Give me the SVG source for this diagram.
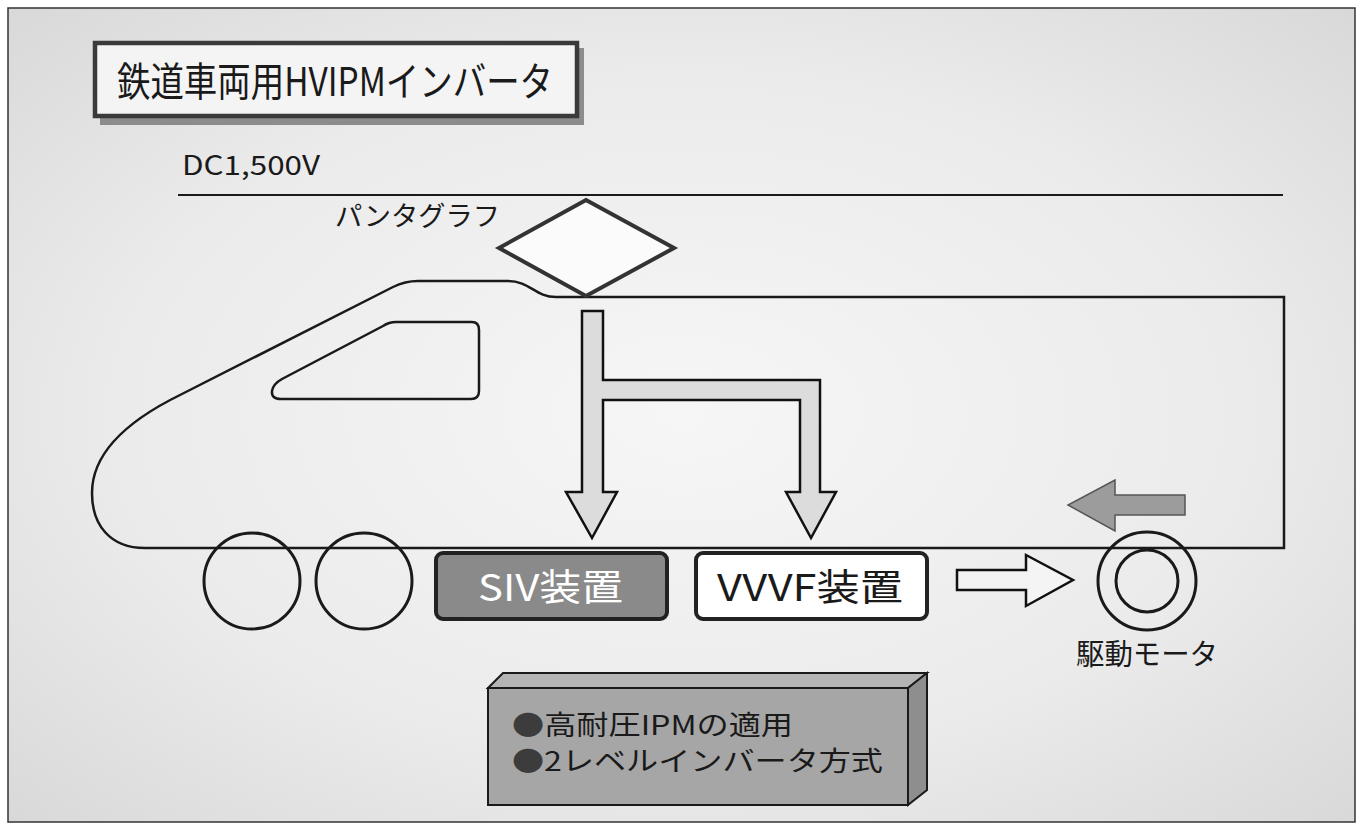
<svg xmlns="http://www.w3.org/2000/svg" width="1366" height="830" viewBox="0 0 1366 830">
  <defs>
    <radialGradient id="paper" cx="0.5" cy="0.5" r="0.7">
      <stop offset="0" stop-color="#f6f6f6"/>
      <stop offset="0.6" stop-color="#ebebeb"/>
      <stop offset="1" stop-color="#d9d9d9"/>
    </radialGradient>
    <style>
      .jp { font-family: "Noto Sans CJK JP", "Noto Sans", sans-serif; fill: #1a1a1a; }
      .ln { fill: none; stroke: #1a1a1a; stroke-width: 2.5; }
      .arrow { stroke: #111; stroke-width: 2.5; stroke-linejoin: miter; }
      .box { stroke: #222; stroke-width: 4; }
      .dot { fill: #3c3c3c; }
    </style>
  </defs>

  <!-- page -->
  <rect x="0" y="0" width="1366" height="830" fill="#ffffff"/>
  <rect x="8" y="8" width="1347" height="814" fill="url(#paper)" stroke="#333" stroke-width="1.5"/>

  <!-- title plate -->
  <g id="title">
    <rect x="100" y="48" width="484" height="77" fill="#8c8c8c"/>
    <rect x="95" y="43" width="482" height="73" fill="#f4f4f4" stroke="#3a3a3a" stroke-width="4.5"/>
    <text class="jp" x="117" y="96" font-size="40" textLength="436" lengthAdjust="spacingAndGlyphs">鉄道車両用HVIPMインバータ</text>
  </g>

  <!-- overhead line -->
  <g id="overhead-line">
    <line x1="178" y1="195" x2="1283" y2="195" stroke="#1a1a1a" stroke-width="2"/>
    <text class="jp" x="182" y="175" font-size="27" textLength="138" lengthAdjust="spacingAndGlyphs">DC1,500V</text>
  </g>

  <!-- train body -->
  <g id="train-body">
    <path class="ln" fill="#f9f9f9" d="M 1284,548 L 145,548 C 110,548 92,525 92,493 C 92,455 125,422 180,395 L 393,287 Q 405,281 418,281 L 508,281 C 530,281 535,297 556,297 L 1284,297 Z"/>
    <path class="ln" fill="#fbfbfb" d="M 396,322 L 472,322 Q 479,322 479,330 L 479,391 Q 479,399 471,399 L 281,399 Q 271,399 272,391 Q 273,384 282,379 L 383,326 Q 389,322 396,322 Z"/>
  </g>

  <!-- pantograph -->
  <g id="pantograph">
    <polygon points="586,200 674,248 586,296 499,248" fill="#fbfbfb" stroke="#333" stroke-width="4"/>
    <text class="jp" x="335" y="226" font-size="27" textLength="165" lengthAdjust="spacingAndGlyphs">パンタグラフ</text>
  </g>

  <!-- wheels -->
  <g id="wheel-1"><circle cx="252" cy="581" r="48" fill="none" stroke="#1a1a1a" stroke-width="3"/></g>
  <g id="wheel-2"><circle cx="364" cy="581" r="48" fill="none" stroke="#1a1a1a" stroke-width="3"/></g>

  <!-- SIV unit -->
  <g id="siv">
    <rect class="box" x="436" y="553" width="231" height="66" rx="7" fill="#8a8a8a"/>
    <text class="jp" x="478" y="601" font-size="37" style="fill:#ffffff" textLength="145" lengthAdjust="spacingAndGlyphs">SIV装置</text>
  </g>

  <!-- VVVF unit -->
  <g id="vvvf">
    <rect class="box" x="696" y="553" width="231" height="66" rx="7" fill="#ffffff"/>
    <text class="jp" x="717" y="601" font-size="37" textLength="186" lengthAdjust="spacingAndGlyphs">VVVF装置</text>
  </g>

  <!-- traction motor -->
  <g id="motor">
    <circle cx="1147" cy="581" r="49" fill="none" stroke="#1a1a1a" stroke-width="3"/>
    <circle cx="1147" cy="581" r="31" fill="none" stroke="#1a1a1a" stroke-width="3"/>
    <text class="jp" x="1076" y="665" font-size="29" textLength="142" lengthAdjust="spacingAndGlyphs">駆動モータ</text>
  </g>

  <!-- feature block -->
  <g id="features">
    <polygon points="488,688 503,673 927,673 908,688" fill="#b4b4b4" stroke="#1a1a1a" stroke-width="2"/>
    <polygon points="908,688 927,673 927,790 908,805" fill="#8e8e8e" stroke="#1a1a1a" stroke-width="2"/>
    <rect x="488" y="688" width="420" height="117" fill="#a6a6a6" stroke="#1a1a1a" stroke-width="2"/>
    <text class="jp" x="512" y="735" font-size="27" textLength="281" lengthAdjust="spacingAndGlyphs"><tspan class="dot">●</tspan>高耐圧IPMの適用</text>
    <text class="jp" x="512" y="771" font-size="27" textLength="371" lengthAdjust="spacingAndGlyphs"><tspan class="dot">●</tspan>2レベルインバータ方式</text>
  </g>

  <!-- connectors -->
  <g id="connectors">
    <path class="arrow" fill="#dcdcdc" d="M 582,311 L 603,311 L 603,380 L 820,380 L 820,492 L 836,492 L 811,538 L 786,492 L 800,492 L 800,400 L 603,400 L 603,492 L 617,492 L 592,538 L 566,492 L 582,492 Z"/>
    <path class="arrow" fill="#f4f4f4" d="M 957,570 L 1026,570 L 1026,555 L 1073,580 L 1026,606 L 1026,590 L 957,590 Z"/>
    <path fill="#9c9c9c" stroke="#555" stroke-width="1.5" d="M 1185,495 L 1115,495 L 1115,480 L 1068,505 L 1115,531 L 1115,515 L 1185,515 Z"/>
  </g>
</svg>
